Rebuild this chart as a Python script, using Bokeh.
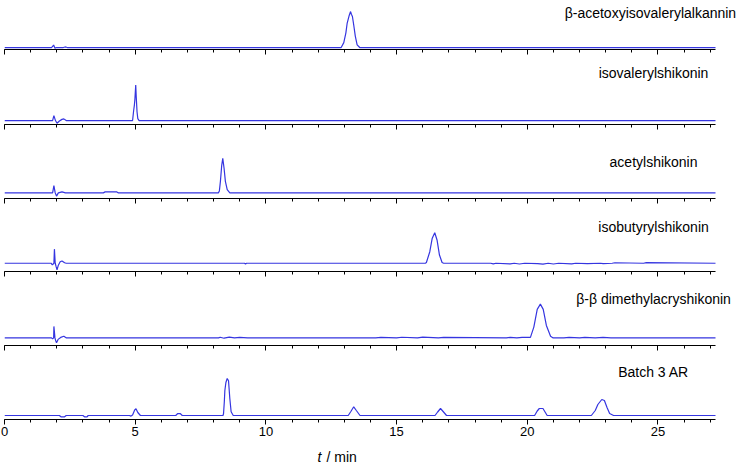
from bokeh.plotting import figure
from bokeh.layouts import column
from bokeh.models import Range1d, SingleIntervalTicker, Label, CustomLabelingPolicy
from bokeh.embed import file_html
from bokeh.resources import INLINE

# ---------------- data (retention time in min, signal relative to baseline) ----------------
names = ["β-acetoxyisovalerylalkannin", "isovalerylshikonin", "acetylshikonin",
         "isobutyrylshikonin", "β-β dimethylacryshikonin", "Batch 3 AR"]

t1 = [0, 1.80, 1.88, 1.93, 1.98, 2.25, 2.32, 2.40, 12.88, 12.98, 13.06, 13.11, 13.19, 13.24,
      13.27, 13.31, 13.36, 13.42, 13.49, 13.59, 27.2]
y1 = [0, 0, 2.5, -0.8, 0, 0, 0.6, 0, 0, 5, 15, 25, 33, 36.7, 34, 31.7, 23, 11.7, 2.7, 0, 0]

t2 = [0, 1.84, 1.89, 1.95, 2.01, 2.10, 2.20, 2.27, 2.36, 4.90, 4.94, 4.97, 4.99, 5.02, 5.04,
      5.07, 5.10, 5.15, 27.2]
y2 = [0, 0, 5, 0, -2.7, -0.5, 1.2, 1.7, 0, 0, 10, 16, 22, 36, 24, 9, 2, 0, 0]

t3 = [0, 1.84, 1.89, 1.94, 1.99, 2.06, 2.20, 2.33, 3.78, 3.85, 4.30, 4.36, 8.18, 8.22, 8.26,
      8.31, 8.35, 8.40, 8.45, 8.52, 8.62, 27.2]
y3 = [0, 0, 7.3, 0, -3.3, 0, 1, 0, 0, 1, 1, 0, 0, 2, 11.7, 28, 35, 25, 11.7, 3.3, 0, 0]

t4 = [0, 1.78, 1.83, 1.89, 1.91, 1.94, 1.97, 2.01, 2.06, 2.13, 2.20, 2.30, 2.36, 9.18, 9.22,
      9.26, 16.10, 16.14, 16.27, 16.36, 16.46, 16.55, 16.64, 16.74, 16.80, 18.60, 18.70, 18.80,
      19.35, 19.50, 19.70, 19.90, 20.40, 20.60, 20.80, 21.00, 21.20, 21.70, 21.85, 22.30,
      22.80, 22.90, 23.25, 23.35, 24.45, 24.55, 27.2]
y4 = [0, 0, -1.7, 0, 14.3, 0, -3, -6.7, -2, 1.5, 2.3, 0.5, 0, 0, -0.7, 0, 0, 0.7, 11.7, 25,
      31, 23.3, 8.3, 0.7, 0, 0, -0.7, 0, -0.7, 0, -0.8, 0, -0.5, -0.9, 0, -0.8, 0, -0.6, 0,
      -0.5, 0, -0.4, 0, 0.5, 0, 0.6, 0]

t5 = [0, 1.80, 1.84, 1.88, 1.89, 1.93, 1.96, 1.99, 2.05, 2.15, 2.27, 2.37, 8.19, 8.25, 8.40,
      8.60, 8.80, 9.00, 9.30, 14.20, 14.40, 15.00, 15.20, 15.80, 16.00, 16.60, 16.80, 19.20,
      19.35, 19.60, 19.80, 20.12, 20.25, 20.38, 20.50, 20.61, 20.73, 20.89, 20.99, 21.40,
      21.60, 22.00, 22.20, 22.60, 22.90, 23.20, 27.2]
y5 = [0, 0, -1, 0, 11.7, 0, -3, -5, -1.5, 0.5, 1.7, 0, 0, 0.7, -0.3, 0.8, 0, 0.6, 0, 0, 0.6,
      0, 0.7, 0, 0.8, 0, 0.5, 0, 0.6, 0, 0.5, 0.5, 11, 29, 34.3, 29, 12.7, 1.7, 0, 0, 0.6, 0,
      0.5, 0, 0.6, 0, 0]

t6 = [0, 2.10, 2.16, 2.30, 2.36, 3.00, 3.06, 3.16, 3.20, 4.78, 4.84, 4.90, 4.98, 5.03, 5.10,
      5.20, 6.55, 6.62, 6.72, 6.80, 8.36, 8.38, 8.41, 8.43, 8.47, 8.52, 8.57, 8.62, 8.67, 8.75,
      13.15, 13.25, 13.36, 13.46, 13.60, 16.47, 16.57, 16.68, 16.78, 16.91, 20.28, 20.38,
      20.46, 20.60, 20.68, 20.76, 22.45, 22.60, 22.70, 22.85, 22.95, 23.05, 23.15, 23.30, 27.2]
y6 = [0, 0, -1.3, -1.3, 0, 0, -1.3, -1.3, 0, 0, -0.6, 0.5, 5.5, 6.7, 3, 0, 0, 1.8, 2, 0, 0, 2,
      14, 25, 33, 37, 34.7, 17, 3.7, 0, 0, 4, 8.7, 5, 0, 0, 3.5, 7, 4, 0, 0, 4.5, 7, 7, 3.5, 0,
      0, 5, 11, 16, 15, 8, 2, 0, 0]

times = [t1, t2, t3, t4, t5, t6]
signals = [y1, y2, y3, y4, y5, y6]

axis_start, axis_end = 0, 27.2
major_step, minor_per_major = 5, 5
x_title_italic, x_title_rest = "t", "/ min"

# ---------------- layout / style ----------------
FONT = "Liberation Sans"
LINE = "#3535e0"
W = 740
BL, BR = 4, 2
frame_w = W - BL - BR
px_per_min = 711 / 27.2
view_end = frame_w / px_per_min           # frame is wider than the axis, room for labels

baseline_lift = [2, 4, 5.7, 8.4, 7.7, 4]        # baseline height above each axis (px)
frame_h = [50, 67, 66, 65, 66, 65]
bottom_b = [8, 8, 8, 8, 8, 23]
label_above_axis = [37, 52, 37, 45, 47, 48]      # label centre above each axis (px)
label_x = [24.71, 24.83, 24.83, 24.83, 24.83, 24.83]

xr = Range1d(0, view_end)
no_labels = CustomLabelingPolicy(code="for (const i of indices) indices.unset(i)")

figs = []
for i in range(6):
    last = i == 5
    p = figure(width=W, height=frame_h[i] + bottom_b[i], x_range=xr,
               y_range=Range1d(-baseline_lift[i], frame_h[i] - baseline_lift[i]),
               output_backend="svg", toolbar_location=None, y_axis_location=None,
               min_border_left=BL, min_border_right=BR, min_border_top=0,
               min_border_bottom=bottom_b[i])
    p.outline_line_color = None
    p.grid.visible = False
    p.background_fill_color = "white"
    p.border_fill_color = "white"
    p.line(times[i], signals[i], line_color=LINE, line_width=1.2)

    ax = p.xaxis[0]
    ax.bounds = (axis_start, axis_end)
    ax.ticker = SingleIntervalTicker(interval=major_step, num_minor_ticks=minor_per_major)
    ax.axis_line_color = "black"
    ax.axis_line_width = 1
    ax.major_tick_line_color = "black"
    ax.minor_tick_line_color = "black"
    ax.major_tick_in = 0
    ax.major_tick_out = 5
    ax.minor_tick_in = 0
    ax.minor_tick_out = 3
    if last:
        ax.major_label_text_font = FONT
        ax.major_label_text_font_size = "13px"
        ax.major_label_text_color = "black"
        ax.major_label_standoff = 2
    else:
        ax.major_label_policy = no_labels
        ax.major_label_text_font_size = "1px"
        ax.major_label_standoff = 0

    p.add_layout(Label(x=label_x[i], y=label_above_axis[i] - baseline_lift[i], text=names[i],
                       text_align="center", text_baseline="middle", text_font=FONT,
                       text_font_size="14px", text_color="black"))
    figs.append(p)

# strip below for the x-axis title: italic "t" followed by "/ min"
pt = figure(width=W, height=22, x_range=xr, y_range=Range1d(0, 22),
            output_backend="svg", toolbar_location=None, x_axis_location=None,
            y_axis_location=None, min_border_left=BL, min_border_right=BR,
            min_border_top=0, min_border_bottom=0)
pt.outline_line_color = None
pt.grid.visible = False
pt.add_layout(Label(x=(317 - 4) / px_per_min, y=8, text=x_title_italic, text_align="left",
                    text_baseline="middle", text_font=FONT, text_font_size="14px",
                    text_font_style="italic", text_color="black"))
pt.add_layout(Label(x=(326 - 4) / px_per_min, y=8, text=x_title_rest, text_align="left",
                    text_baseline="middle", text_font=FONT, text_font_size="14px",
                    text_color="black"))
figs.append(pt)

layout = column(*figs, spacing=0)
open("out.html", "w").write(file_html(layout, INLINE))
